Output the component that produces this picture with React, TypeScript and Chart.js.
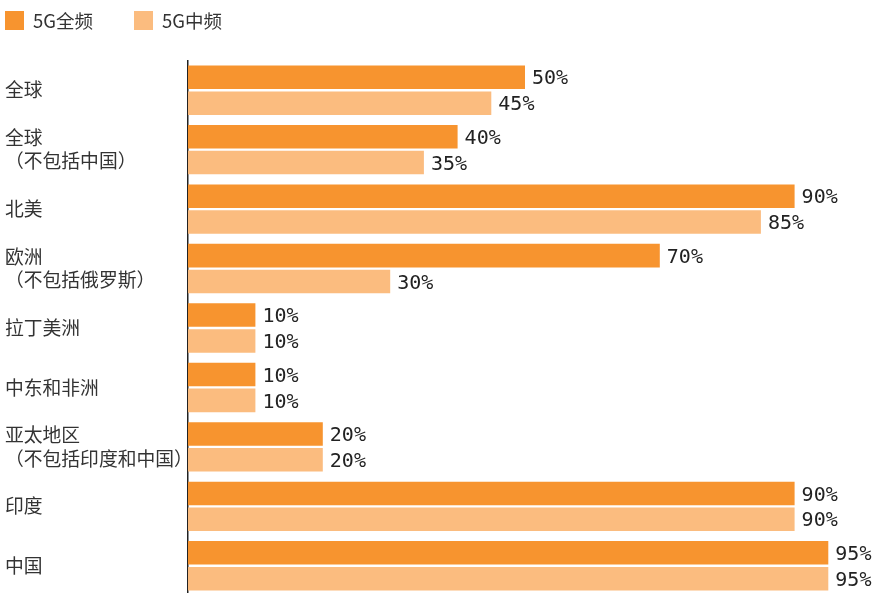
import React, { useEffect, useRef } from "react";
import { Chart, registerables } from "chart.js";

Chart.register(...registerables);

const categories: string[][] = [
  ["全球"],
  ["全球", "（不包括中国）"],
  ["北美"],
  ["欧洲", "（不包括俄罗斯）"],
  ["拉丁美洲"],
  ["中东和非洲"],
  ["亚太地区", "（不包括印度和中国）"],
  ["印度"],
  ["中国"],
];
const seriesNames = ["5G全频", "5G中频"];
const fullBand = [50, 40, 90, 70, 10, 10, 20, 90, 95];
const midBand = [45, 35, 85, 30, 10, 10, 20, 90, 95];
const colors = ["#f7942f", "#fbbc7f"];

const labelFont = '"Noto Sans CJK SC", "Noto Sans", sans-serif';
const valueFont = '"DejaVu Sans Mono", monospace';

const valueLabels = {
  id: "valueLabels",
  afterDatasetsDraw(chart: any) {
    const ctx = chart.ctx;
    ctx.save();
    ctx.font = `20px ${valueFont}`;
    ctx.fillStyle = "#222";
    ctx.textAlign = "left";
    ctx.textBaseline = "middle";
    chart.data.datasets.forEach((ds: any, i: number) => {
      const meta = chart.getDatasetMeta(i);
      meta.data.forEach((el: any, j: number) => {
        ctx.fillText(`${ds.data[j]}%`, el.x + 7, el.y + 2);
      });
    });
    ctx.restore();
  },
};

export default function App() {
  const ref = useRef<HTMLCanvasElement>(null);
  useEffect(() => {
    document.body.style.margin = "0";
    const chart = new Chart(ref.current!, {
      type: "bar",
      data: {
        labels: categories,
        datasets: [
          { label: seriesNames[0], data: fullBand, backgroundColor: colors[0] },
          { label: seriesNames[1], data: midBand, backgroundColor: colors[1] },
        ],
      },
      options: {
        indexAxis: "y",
        animation: false,
        responsive: false,
        maintainAspectRatio: false,
        datasets: { bar: { categoryPercentage: 0.87, barPercentage: 0.91 } },
        layout: { padding: { top: 60.5, left: 5, right: 11, bottom: 14.5 } },
        plugins: {
          legend: { display: false },
          tooltip: { enabled: false },
        },
        scales: {
          x: { display: false, min: 0, max: 100 },
          y: {
            grid: { display: false, drawTicks: false },
            border: { display: true, color: "#222", width: 1.5 },
            ticks: {
              crossAlign: "far",
              color: "#333",
              font: { family: labelFont, size: 18.8, lineHeight: 1.23 },
              padding: 0,
            },
            afterFit(scale: any) {
              scale.width = 183;
            },
          },
        },
      },
      plugins: [valueLabels],
    });
    return () => chart.destroy();
  }, []);

  const legendItem = (name: string, color: string, left: number) => (
    <div
      key={name}
      style={{ position: "absolute", left, top: 11, display: "flex", alignItems: "center" }}
    >
      <span style={{ display: "inline-block", width: 19, height: 19, background: color }} />
      <span
        style={{
          marginLeft: 9,
          fontFamily: labelFont,
          fontSize: 18.5,
          color: "#333",
          lineHeight: "19px",
        }}
      >
        {name}
      </span>
    </div>
  );

  return (
    <div style={{ position: "relative", width: 873, height: 610 }}>
      {legendItem(seriesNames[0], colors[0], 5)}
      {legendItem(seriesNames[1], colors[1], 134)}
      <canvas ref={ref} width={873} height={610} style={{ display: "block" }} />
    </div>
  );
}
